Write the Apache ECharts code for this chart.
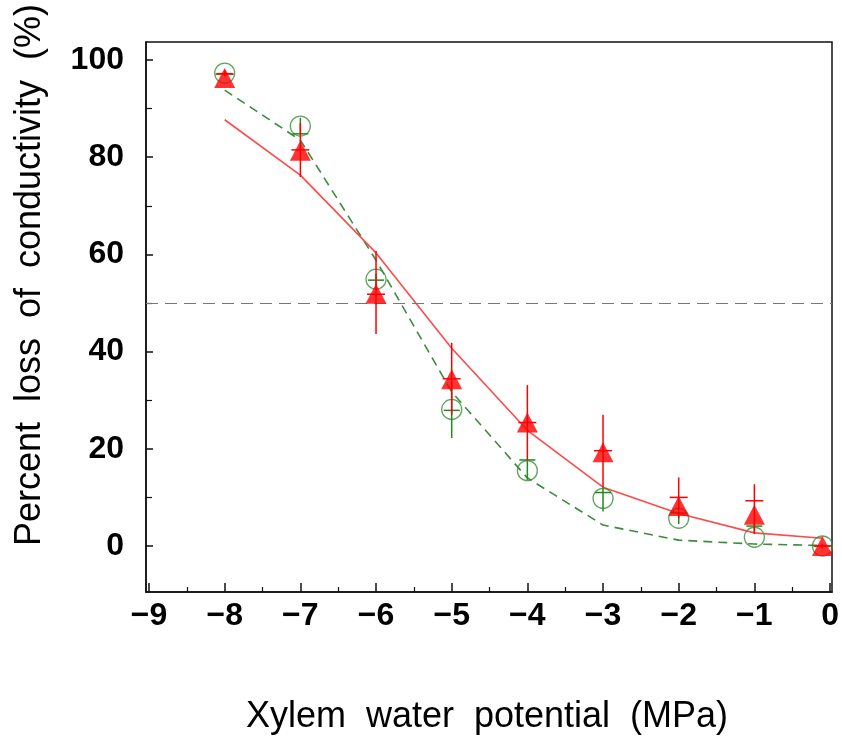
<!DOCTYPE html>
<html>
<head>
<meta charset="utf-8">
<script src="https://cdn.jsdelivr.net/npm/echarts@6/dist/echarts.min.js"></script>
<style>
html,body{margin:0;padding:0;background:#fff;}
#chart{width:842px;height:742px;}
</style>
</head>
<body>
<div id="chart"></div>
<script>
// ---- data ----
const xVals = [-8, -7, -6, -5, -4, -3, -2, -1, -0.1];
const xTicks = [-9, -8, -7, -6, -5, -4, -3, -2, -1, 0];
const xMinorTicks = [-8.5, -7.5, -6.5, -5.5, -4.5, -3.5, -2.5, -1.5, -0.5];
const yTicks = [0, 20, 40, 60, 80, 100];
const yMinorTicks = [10, 30, 50, 70, 90];
const xRange = [-9.04, 0.026];
const yRange = [-9.47, 103.7];
// red filled triangles
const redMean     = [96.3, 81.3, 51.9, 34.3, 25.4, 19.3, 8.2, 6.4, 0];
const redErrHigh  = [97.8, 87.0, 60.7, 41.8, 33.1, 27.0, 14.1, 12.7, 0.5];
const redErrLow   = [96.6, 75.9, 43.6, 27.0, 17.7, 12.1, 5.7, 2.5, -0.5];
const redTick     = [97.1, 81.5, 51.8, 34.4, 25.4, 19.6, 10.0, 9.3, 0];
const redFit      = [87.7, 76.3, 60.3, 40.7, 23.8, 12.1, 6.7, 2.7, 1.6];
// green open circles
const greenMean    = [97.3, 86.4, 54.9, 28.1, 15.5, 9.8, 5.7, 1.8, 0];
const greenErrHigh = [97.8, 88.1, 56.0, 33.7, 17.7, 12.1, 7.0, 4.5, 0.3];
const greenErrLow  = [96.8, 84.8, 53.5, 22.2, 13.6, 7.1, 4.5, 2.6, -0.3];
const greenTick    = [97.2, 84.8, 54.7, 27.9, 17.7, 11.0, 6.8, 4.1, 0];
const greenFit     = [93.8, 83.5, 58.8, 31.7, 14.0, 4.3, 1.2, 0.4, 0.1];
const refLine = 50;

const xTitle = 'Xylem  water  potential  (MPa)';
const yTitle = 'Percent  loss  of  conductivity  (%)';

// ---- build ----
const FONT = '"Liberation Sans", Arial, sans-serif';
const RED = '#ff0000';

function pairs(ys) { return xVals.map((x, i) => [x, ys[i]]); }
function errData(hi, lo, tk) { return xVals.map((x, i) => [x, hi[i], lo[i], tk[i]]); }

function errRender(color, capW) {
  return function (params, api) {
    const x = api.value(0);
    const pHi = api.coord([x, api.value(1)]);
    const pLo = api.coord([x, api.value(2)]);
    const pT = api.coord([x, api.value(3)]);
    const st = { stroke: color, lineWidth: 1.5 };
    return {
      type: 'group',
      children: [
        { type: 'line', shape: { x1: pHi[0], y1: pHi[1], x2: pLo[0], y2: pLo[1] }, style: st },
        { type: 'line', shape: { x1: pT[0] - capW / 2, y1: pT[1], x2: pT[0] + capW / 2, y2: pT[1] }, style: st }
      ]
    };
  };
}

const fmtX = v => (v < 0 ? '\u2212' + Math.abs(v) : String(v));
const labelStyle = { fontSize: 32, fontWeight: 'bold', fontFamily: FONT, color: '#000' };

const chart = echarts.init(document.getElementById('chart'), null, { renderer: 'canvas' });
chart.setOption({
  animation: false,
  backgroundColor: '#fff',
  grid: { left: 146, right: 10, top: 42, bottom: 150, show: true, borderColor: '#111', borderWidth: 1.5, backgroundColor: 'transparent' },
  xAxis: [
    {
      type: 'value', min: xRange[0], max: xRange[1], position: 'bottom',
      axisLine: { show: true, onZero: false, lineStyle: { color: '#111', width: 1.5 } },
      axisTick: { show: true, inside: true, length: 9, customValues: xTicks, lineStyle: { color: '#111', width: 1.5 } },
      splitLine: { show: false },
      axisLabel: Object.assign({ margin: 8, customValues: xTicks, formatter: fmtX }, labelStyle)
    },
    {
      type: 'value', min: xRange[0], max: xRange[1], position: 'bottom',
      axisLine: { show: false, onZero: false },
      axisTick: { show: true, inside: true, length: 5, customValues: xMinorTicks, lineStyle: { color: '#111', width: 1.2 } },
      splitLine: { show: false },
      axisLabel: { show: false }
    }
  ],
  yAxis: [
    {
      type: 'value', min: yRange[0], max: yRange[1], position: 'left',
      axisLine: { show: true, onZero: false, lineStyle: { color: '#111', width: 1.5 } },
      axisTick: { show: true, inside: true, length: 7, customValues: yTicks, lineStyle: { color: '#111', width: 1.5 } },
      splitLine: { show: false },
      axisLabel: Object.assign({ margin: 22, customValues: yTicks }, labelStyle)
    },
    {
      type: 'value', min: yRange[0], max: yRange[1], position: 'left',
      axisLine: { show: false, onZero: false },
      axisTick: { show: true, inside: true, length: 6, customValues: yMinorTicks, lineStyle: { color: '#111', width: 1.2 } },
      splitLine: { show: false },
      axisLabel: { show: false }
    }
  ],
  graphic: [
    { type: 'text', x: 487, y: 717, style: { text: xTitle, fontSize: 36, fontFamily: FONT, fill: '#000', align: 'center', verticalAlign: 'middle' } },
    { type: 'text', x: 30, y: 275, rotation: Math.PI / 2, style: { text: yTitle, fontSize: 36, fontFamily: FONT, fill: '#000', align: 'center', verticalAlign: 'middle' } }
  ],
  series: [
    {
      type: 'line', name: 'green fit', data: pairs(greenFit), symbol: 'none', z: 2,
      lineStyle: { color: '#3a8c3a', width: 1.6, type: [9, 6] },
      markLine: {
        silent: true, symbol: 'none', label: { show: false },
        lineStyle: { color: '#777', width: 1.2, type: [12, 7] },
        data: [{ yAxis: refLine }]
      }
    },
    {
      type: 'line', name: 'red fit', data: pairs(redFit), symbol: 'none', z: 2,
      lineStyle: { color: '#ff4a4a', width: 1.6 }
    },
    {
      type: 'scatter', name: 'green', data: pairs(greenMean), symbol: 'circle', symbolSize: 20, z: 3,
      itemStyle: { color: 'rgba(0,0,0,0)', borderColor: '#3a8c3a', borderWidth: 1.3 }
    },
    {
      type: 'custom', name: 'green err', data: errData(greenErrHigh, greenErrLow, greenTick), z: 4,
      renderItem: errRender('#1f8a1f', 16)
    },
    {
      type: 'scatter', name: 'red', data: pairs(redMean), symbol: 'triangle', symbolSize: [21, 20], z: 5,
      itemStyle: { color: RED }
    },
    {
      type: 'custom', name: 'red err', data: errData(redErrHigh, redErrLow, redTick), z: 6,
      renderItem: errRender(RED, 18)
    }
  ]
});
</script>
</body>
</html>
